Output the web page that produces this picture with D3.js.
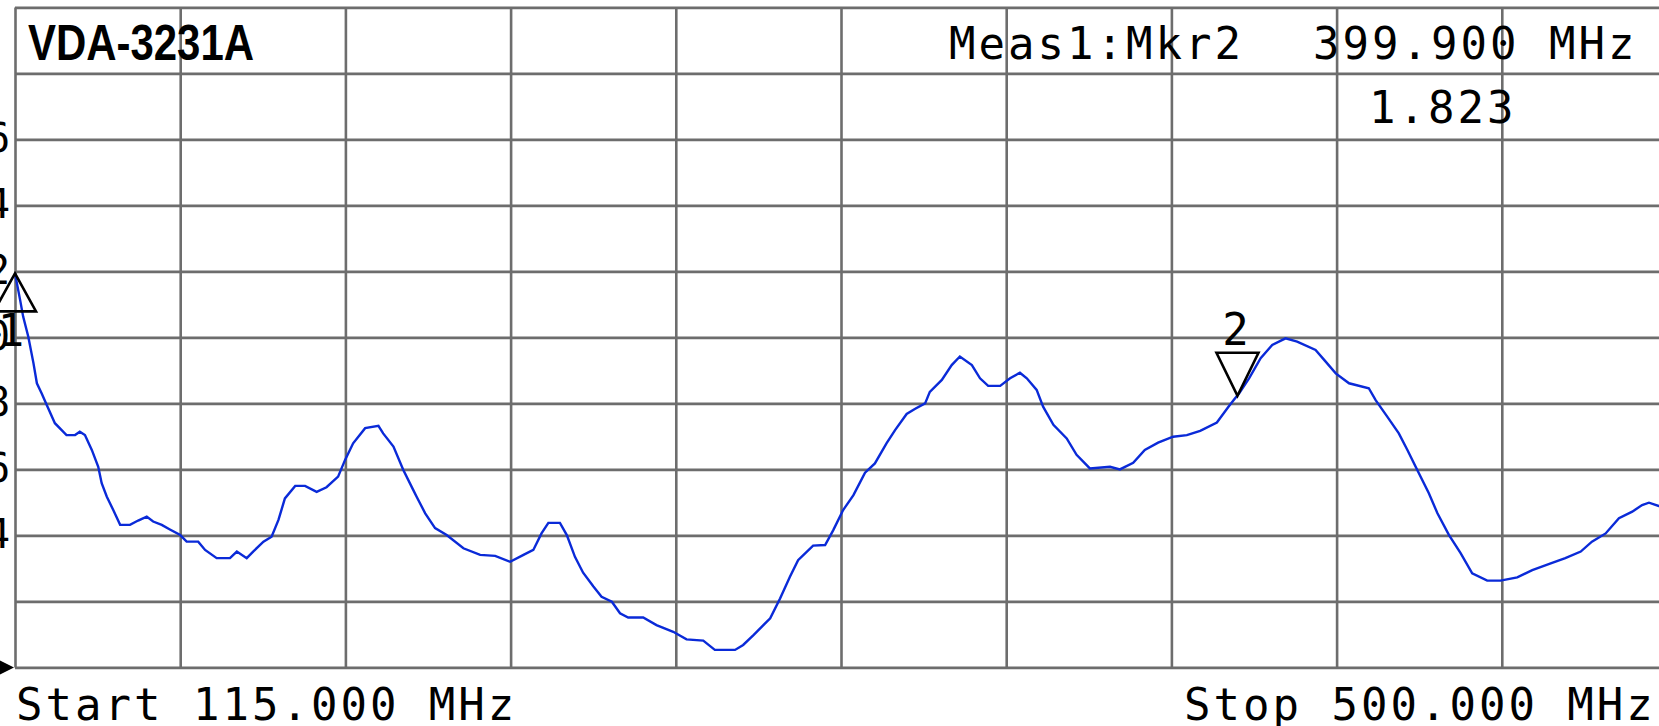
<!DOCTYPE html>
<html><head><meta charset="utf-8">
<script src="https://cdn.jsdelivr.net/npm/d3@7"></script>
<style>body{margin:0;background:#fff;overflow:hidden}svg{display:block}text{white-space:pre}</style>
</head><body><svg id="c" width="1659" height="726"></svg>
<script>
// ---- data ----
const freqMHz = [115.0,116.2,116.9,118.1,119.3,120.1,121.2,122.4,124.3,127.0,129.0,130.1,131.3,132.9,134.4,135.2,136.4,137.9,139.5,141.8,143.7,145.7,147.2,149.2,151.1,153.5,155.0,157.7,159.3,162.0,165.1,166.7,169.0,170.5,172.9,174.8,176.4,177.9,180.3,182.6,185.3,187.6,190.3,191.9,193.8,196.6,199.7,200.8,203.2,205.5,207.8,208.6,210.6,212.9,215.6,219.5,223.4,226.9,230.4,233.5,235.8,237.7,239.3,242.0,243.6,245.5,247.4,249.8,251.7,254.1,256.0,257.9,261.4,264.5,268.4,271.5,275.4,278.1,282.8,284.7,287.1,291.0,293.3,295.6,297.5,301.0,303.8,305.7,308.0,310.4,313.1,315.4,318.1,320.1,322.8,324.7,327.1,328.2,331.0,333.3,335.2,338.0,339.9,341.8,344.6,346.9,349.2,350.8,353.1,354.6,357.0,360.1,362.4,365.5,370.2,372.5,375.6,378.3,381.4,384.9,388.1,391.2,395.1,397.8,399.3,400.3,402.6,405.3,408.0,411.1,413.8,418.1,420.1,422.8,425.9,430.5,432.1,434.8,437.5,439.5,441.8,444.5,446.5,449.2,451.9,454.6,458.1,461.2,465.1,468.6,472.9,476.3,479.9,482.5,485.7,488.8,491.9,494.2,495.8,498.1,500.0];
const swrValues = [2.194,2.113,2.063,2.002,1.922,1.861,1.831,1.795,1.740,1.704,1.704,1.714,1.704,1.659,1.608,1.558,1.517,1.477,1.432,1.432,1.445,1.457,1.442,1.432,1.418,1.401,1.381,1.381,1.356,1.331,1.331,1.351,1.331,1.351,1.381,1.396,1.447,1.512,1.550,1.550,1.532,1.546,1.578,1.628,1.679,1.725,1.732,1.709,1.669,1.598,1.538,1.517,1.467,1.422,1.401,1.361,1.341,1.338,1.320,1.341,1.356,1.406,1.438,1.438,1.401,1.335,1.287,1.245,1.214,1.199,1.164,1.151,1.151,1.128,1.108,1.085,1.081,1.053,1.053,1.068,1.098,1.149,1.209,1.275,1.325,1.369,1.371,1.416,1.477,1.522,1.590,1.618,1.679,1.719,1.768,1.783,1.800,1.835,1.871,1.916,1.942,1.916,1.876,1.853,1.853,1.876,1.893,1.876,1.841,1.790,1.735,1.694,1.644,1.603,1.608,1.600,1.620,1.659,1.681,1.699,1.704,1.717,1.742,1.790,1.815,1.831,1.876,1.937,1.977,1.997,1.987,1.962,1.932,1.891,1.861,1.846,1.810,1.760,1.709,1.659,1.598,1.528,1.467,1.401,1.346,1.285,1.263,1.263,1.273,1.295,1.315,1.331,1.351,1.381,1.406,1.452,1.472,1.492,1.499,1.489,1.485];
const xGridMHz = [115,153.5,192,230.5,269,307.5,346,384.5,423,461.5,500];
const yGridSWR = [1.0,1.2,1.4,1.6,1.8,2.0,2.2,2.4,2.6,2.8,3.0];
const yLabelValues = [2.6,2.4,2.2,2.0,1.8,1.6,1.4];
const yLabelTexts = ["2.6","2.4","2.2","2.0","1.8","1.6","1.4"];
const markerIds = ["1","2"];
const markerFreqs = [115.0,399.9];
const markerSwr = [2.194,1.823];
const markerDirs = ["up","down"];
const titleText = "VDA-3231A";
const measLabel = "Meas1:Mkr2";
const measFreq = "399.900 MHz";
const measValue = "1.823";
const startText = "Start 115.000 MHz";
const stopText = "Stop 500.000 MHz";

// ---- layout ----
const W = 1659, H = 726;
const plotLeft = 15, divW = 165.2, plotTop = 7.4, divH = 66;
const x = d3.scaleLinear().domain([115,500]).range([plotLeft, plotLeft + 10*divW]);
const y = d3.scaleLinear().domain([1,3]).range([plotTop + 10*divH, plotTop]);
const svg = d3.select("#c");
svg.append("rect").attr("width",W).attr("height",H).attr("fill","#fff");

const gridColor = "#6d6d6d";
const gx = svg.append("g").attr("transform",`translate(0,${y(1)})`)
  .call(d3.axisBottom(x).tickValues(xGridMHz).tickSize(-(y(1)-y(3))).tickFormat(""));
const gy = svg.append("g").attr("transform",`translate(${x(115)},0)`)
  .call(d3.axisLeft(y).tickValues(yGridSWR).tickSize(-(W - plotLeft + 20)).tickFormat(""));
[gx,gy].forEach(g=>{
  g.select(".domain").remove();
  g.selectAll(".tick line").attr("stroke",gridColor).attr("stroke-width",2.6);
});

const mono = "'DejaVu Sans Mono', monospace";
// y labels (cut off at left edge)
svg.append("g").selectAll("text").data(yLabelValues).join("text")
  .attr("x",10).attr("y",d=>y(d)+13)
  .attr("text-anchor","end")
  .attr("font-family",mono).attr("font-size",40).attr("fill","#000")
  .text((d,i)=>yLabelTexts[i]);

// trace
const pts = freqMHz.map((f,i)=>[f, swrValues[i]]);
svg.append("path").datum(pts)
  .attr("fill","none").attr("stroke","#0a2ad8").attr("stroke-width",2.4)
  .attr("d", d3.line().x(d=>x(d[0])).y(d=>y(d[1])));

// markers
markerIds.forEach((id,i)=>{
  const tx = x(markerFreqs[i]), ty = y(markerSwr[i]);
  const p = d3.path();
  if (markerDirs[i]==="down") {
    p.moveTo(tx-21, ty-43); p.lineTo(tx+21, ty-43); p.lineTo(tx, ty); p.closePath();
  } else {
    p.moveTo(tx, ty); p.lineTo(tx+21, ty+38); p.lineTo(tx-21, ty+38); p.closePath();
  }
  svg.append("path").attr("d",p.toString()).attr("fill","none")
    .attr("stroke","#000").attr("stroke-width",2.6);
  svg.append("text")
    .attr("x", markerDirs[i]==="down" ? tx-2 : tx-4)
    .attr("y", markerDirs[i]==="down" ? ty-51 : ty+73)
    .attr("text-anchor","middle").attr("font-family",mono).attr("font-size",44)
    .attr("fill","#000").text(id);
});

// reference arrow
const ry = y(1);
svg.append("path").attr("d",`M0,${ry-7}L14,${ry}L0,${ry+7}Z`).attr("fill","#000");

// texts
svg.append("text").attr("x",28).attr("y",60)
  .attr("font-family","'Liberation Sans', Arial, sans-serif").attr("font-weight","bold")
  .attr("font-size",50).attr("textLength",226).attr("lengthAdjust","spacingAndGlyphs")
  .attr("fill","#000").text(titleText);
const ls = 3;
svg.append("text").attr("x",949).attr("y",59).attr("font-family",mono).attr("font-size",44)
  .attr("letter-spacing",ls).attr("fill","#000").text(measLabel);
svg.append("text").attr("x",1313).attr("y",59).attr("font-family",mono).attr("font-size",44)
  .attr("letter-spacing",ls).attr("fill","#000").text(measFreq);
svg.append("text").attr("x",1369).attr("y",123).attr("font-family",mono).attr("font-size",44)
  .attr("letter-spacing",ls).attr("fill","#000").text(measValue);
svg.append("text").attr("x",16).attr("y",720).attr("font-family",mono).attr("font-size",44)
  .attr("letter-spacing",ls).attr("fill","#000").text(startText);
svg.append("text").attr("x",1184).attr("y",720).attr("font-family",mono).attr("font-size",44)
  .attr("letter-spacing",ls).attr("fill","#000").text(stopText);
</script></body></html>
